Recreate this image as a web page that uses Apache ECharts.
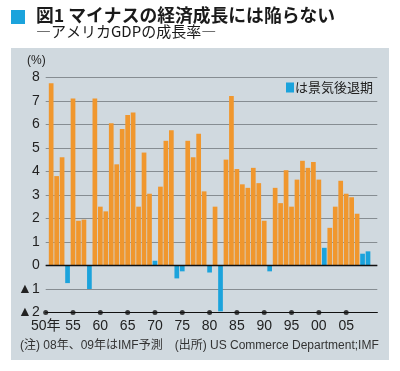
<!DOCTYPE html>
<html><head><meta charset="utf-8">
<script src="https://cdn.jsdelivr.net/npm/echarts@6/dist/echarts.min.js"></script>
<style>html,body{margin:0;padding:0;background:#fff}#c{width:400px;height:371px}</style>
</head><body><div id="c"></div>
<script>
// ---- data ----
const years = [1951,1952,1953,1954,1955,1956,1957,1958,1959,1960,
  1961,1962,1963,1964,1965,1966,1967,1968,1969,1970,
  1971,1972,1973,1974,1975,1976,1977,1978,1979,1980,
  1981,1982,1983,1984,1985,1986,1987,1988,1989,1990,
  1991,1992,1993,1994,1995,1996,1997,1998,1999,2000,
  2001,2002,2003,2004,2005,2006,2007,2008,2009];
const growth = [7.75,3.8,4.6,-0.75,7.1,1.9,1.95,-1.0,7.1,2.5,
  2.3,6.05,4.3,5.8,6.4,6.5,2.5,4.8,3.05,0.2,
  3.35,5.3,5.75,-0.55,-0.25,5.3,4.6,5.6,3.15,-0.3,
  2.5,-1.95,4.5,7.2,4.1,3.45,3.3,4.15,3.5,1.9,
  -0.25,3.3,2.65,4.05,2.5,3.65,4.45,4.15,4.4,3.65,
  0.75,1.6,2.5,3.6,3.05,2.9,2.2,0.5,0.6];
const recessionYears = [1954,1958,1970,1974,1975,1980,1982,1991,2001,2008,2009];
const xTickYears = [1950,1955,1960,1965,1970,1975,1980,1985,1990,1995,2000,2005];
const xTickLabels = ['50年','55','60','65','70','75','80','85','90','95','00','05'];
const yTicks = [-2,-1,0,1,2,3,4,5,6,7,8];
const yTickLabels = ['▲2','▲1','0','1','2','3','4','5','6','7','8'];

const titleText = '図1 マイナスの経済成長には陥らない';
const subText = '―アメリカGDPの成長率―';
const legendName = 'は景気後退期';
const noteText = '(注) 08年、09年はIMF予測　(出所) US Commerce Department;IMF';

// ---- build ----
const normalData = [], recData = [];
years.forEach((y, i) => {
  if (recessionYears.includes(y)) recData.push([y, growth[i]]);
  else normalData.push([y, growth[i]]);
});
const tickDots = xTickYears.map(y => [y, -2]);

const LAT = "'Liberation Sans', Arial, 'Noto Sans CJK JP', sans-serif";
const CJK = "'Noto Sans CJK JP', 'Liberation Sans', sans-serif";

const chart = echarts.init(document.getElementById('c'), null, {renderer: 'canvas'});
chart.setOption({
  animation: false,
  backgroundColor: '#ffffff',
  title: [
    {text: titleText, left: 36, top: 6, padding: 0,
     textStyle: {fontFamily: CJK, fontSize: 17.8, fontWeight: 'bold', color: '#1a1a1a'}},
    {text: subText, left: 36, top: 24, padding: 0,
     textStyle: {fontFamily: CJK, fontSize: 15, fontWeight: 'normal', color: '#1a1a1a'}},
    {text: noteText, left: 20, top: 340, padding: 0,
     textStyle: {fontFamily: LAT, fontSize: 12, fontWeight: 'normal', color: '#333'}}
  ],
  graphic: [
    {type: 'rect', z: -100, shape: {x: 11, y: 10, width: 14, height: 14}, style: {fill: '#1ba3dc'}},
    {type: 'rect', z: -100, shape: {x: 11, y: 48, width: 378, height: 312}, style: {fill: '#d0d9df'}}
  ],
  legend: {
    data: [legendName], left: 286, top: 81, padding: 0, itemWidth: 8, itemHeight: 10,
    icon: 'rect', selectedMode: false,
    textStyle: {fontFamily: CJK, fontSize: 13, color: '#222', padding: [0, 0, 0, -4]}
  },
  grid: {left: 45.7, right: 22.7, top: 77.3, bottom: 58.5},
  xAxis: {
    type: 'value', min: 1950, max: 2010.7, interval: 5,
    axisLine: {show: true, onZero: false, lineStyle: {color: '#111', width: 1.2}},
    axisTick: {show: false},
    splitLine: {show: false},
    axisLabel: {
      margin: 7, fontFamily: LAT, fontSize: 14, color: '#222',
      formatter: v => { const k = xTickYears.indexOf(Math.round(v)); return k >= 0 ? xTickLabels[k] : ''; }
    }
  },
  yAxis: {
    type: 'value', min: -2, max: 8, interval: 1,
    name: '(%)', nameLocation: 'end', nameGap: 11,
    nameTextStyle: {fontFamily: LAT, fontSize: 12, color: '#222', align: 'right', padding: [0, 0, 0, 0]},
    axisLine: {show: false}, axisTick: {show: false},
    axisLabel: {
      margin: 6, fontFamily: LAT, fontSize: 14, color: '#222',
      formatter: v => { const k = yTicks.indexOf(Math.round(v)); return k >= 0 ? yTickLabels[k] : ''; }
    },
    splitLine: {show: true, lineStyle: {color: '#868d92', width: 1}}
  },
  series: [
    {
      type: 'bar', name: '成長率', data: normalData, barWidth: 4.7, barGap: '-100%',
      itemStyle: {color: '#f0972e'},
      markLine: {
        silent: true, symbol: 'none', label: {show: false},
        lineStyle: {color: '#111', width: 1.3, type: 'solid'},
        data: [{yAxis: 0}]
      }
    },
    {
      type: 'bar', name: legendName, data: recData, barWidth: 4.7, barGap: '-100%',
      itemStyle: {color: '#1ba3dc'}
    },
    {
      type: 'scatter', name: 'ticks', data: tickDots, symbolSize: 5, silent: true,
      itemStyle: {color: '#111'}, z: 5
    }
  ]
});
</script></body></html>
